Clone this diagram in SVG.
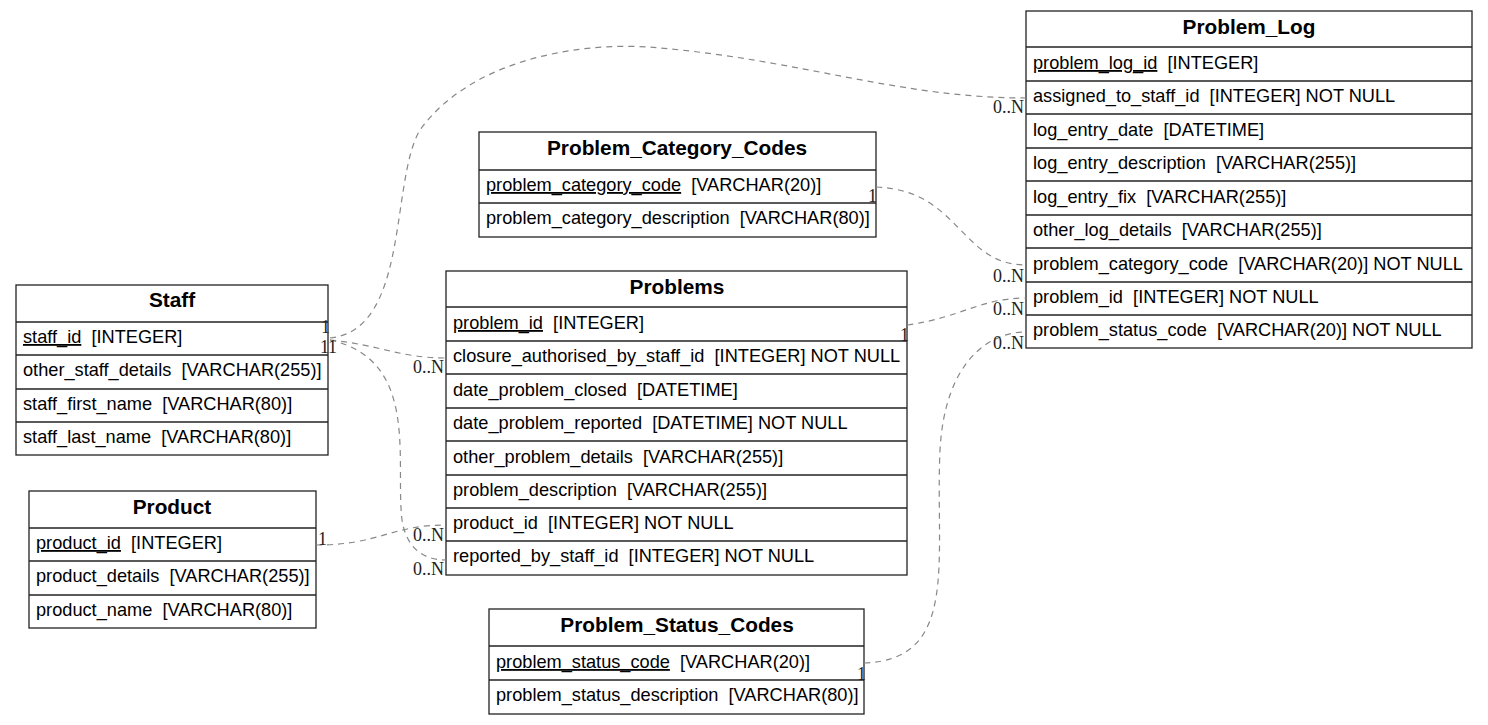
<svg xmlns="http://www.w3.org/2000/svg" width="1488" height="725" viewBox="0 0 1488 725">
<style>
.box{fill:#fff;stroke:#222;stroke-width:1.3}
.sep{stroke:#222;stroke-width:1.3}
.h{font-family:"Liberation Sans",Arial,sans-serif;font-size:20.8px;font-weight:bold;text-anchor:middle;fill:#000}
.r{font-family:"Liberation Sans",Arial,sans-serif;font-size:18.2px;fill:#000;white-space:pre}
.pk{text-decoration:underline}
.e{fill:none;stroke:#888;stroke-width:1.2;stroke-dasharray:6,5}
.l{font-family:"Liberation Serif","Times New Roman",serif;font-size:18px;fill:#222}
</style>
<rect width="1488" height="725" fill="#fff"/>
<g id="Staff">
<rect class="box" x="16" y="285" width="312" height="170"/>
<line class="sep" x1="16" y1="322" x2="328" y2="322"/>
<line class="sep" x1="16" y1="355" x2="328" y2="355"/>
<line class="sep" x1="16" y1="389" x2="328" y2="389"/>
<line class="sep" x1="16" y1="422" x2="328" y2="422"/>
<text class="h" x="172" y="307">Staff</text>
<text class="r" x="23" y="343"><tspan class="pk">staff_id</tspan>  [INTEGER]</text>
<text class="r" x="23" y="376">other_staff_details  [VARCHAR(255)]</text>
<text class="r" x="23" y="410">staff_first_name  [VARCHAR(80)]</text>
<text class="r" x="23" y="443">staff_last_name  [VARCHAR(80)]</text>
</g>
<g id="Product">
<rect class="box" x="29" y="491" width="287" height="137"/>
<line class="sep" x1="29" y1="528" x2="316" y2="528"/>
<line class="sep" x1="29" y1="561" x2="316" y2="561"/>
<line class="sep" x1="29" y1="595" x2="316" y2="595"/>
<text class="h" x="172" y="514">Product</text>
<text class="r" x="36" y="549"><tspan class="pk">product_id</tspan>  [INTEGER]</text>
<text class="r" x="36" y="582">product_details  [VARCHAR(255)]</text>
<text class="r" x="36" y="616">product_name  [VARCHAR(80)]</text>
</g>
<g id="Problem_Category_Codes">
<rect class="box" x="479" y="132" width="397" height="105"/>
<line class="sep" x1="479" y1="170" x2="876" y2="170"/>
<line class="sep" x1="479" y1="203" x2="876" y2="203"/>
<text class="h" x="677" y="155">Problem_Category_Codes</text>
<text class="r" x="486" y="191"><tspan class="pk">problem_category_code</tspan>  [VARCHAR(20)]</text>
<text class="r" x="486" y="224">problem_category_description  [VARCHAR(80)]</text>
</g>
<g id="Problems">
<rect class="box" x="446" y="271" width="461" height="304"/>
<line class="sep" x1="446" y1="307" x2="907" y2="307"/>
<line class="sep" x1="446" y1="341" x2="907" y2="341"/>
<line class="sep" x1="446" y1="374" x2="907" y2="374"/>
<line class="sep" x1="446" y1="408" x2="907" y2="408"/>
<line class="sep" x1="446" y1="441" x2="907" y2="441"/>
<line class="sep" x1="446" y1="475" x2="907" y2="475"/>
<line class="sep" x1="446" y1="508" x2="907" y2="508"/>
<line class="sep" x1="446" y1="541" x2="907" y2="541"/>
<text class="h" x="677" y="294">Problems</text>
<text class="r" x="453" y="329"><tspan class="pk">problem_id</tspan>  [INTEGER]</text>
<text class="r" x="453" y="362">closure_authorised_by_staff_id  [INTEGER] NOT NULL</text>
<text class="r" x="453" y="396">date_problem_closed  [DATETIME]</text>
<text class="r" x="453" y="429">date_problem_reported  [DATETIME] NOT NULL</text>
<text class="r" x="453" y="463">other_problem_details  [VARCHAR(255)]</text>
<text class="r" x="453" y="496">problem_description  [VARCHAR(255)]</text>
<text class="r" x="453" y="529">product_id  [INTEGER] NOT NULL</text>
<text class="r" x="453" y="562">reported_by_staff_id  [INTEGER] NOT NULL</text>
</g>
<g id="Problem_Status_Codes">
<rect class="box" x="489" y="609" width="375" height="105"/>
<line class="sep" x1="489" y1="646" x2="864" y2="646"/>
<line class="sep" x1="489" y1="680" x2="864" y2="680"/>
<text class="h" x="677" y="632">Problem_Status_Codes</text>
<text class="r" x="496" y="668"><tspan class="pk">problem_status_code</tspan>  [VARCHAR(20)]</text>
<text class="r" x="496" y="701">problem_status_description  [VARCHAR(80)]</text>
</g>
<g id="Problem_Log">
<rect class="box" x="1026" y="11" width="446" height="337"/>
<line class="sep" x1="1026" y1="47" x2="1472" y2="47"/>
<line class="sep" x1="1026" y1="81" x2="1472" y2="81"/>
<line class="sep" x1="1026" y1="114" x2="1472" y2="114"/>
<line class="sep" x1="1026" y1="148" x2="1472" y2="148"/>
<line class="sep" x1="1026" y1="181" x2="1472" y2="181"/>
<line class="sep" x1="1026" y1="215" x2="1472" y2="215"/>
<line class="sep" x1="1026" y1="248" x2="1472" y2="248"/>
<line class="sep" x1="1026" y1="282" x2="1472" y2="282"/>
<line class="sep" x1="1026" y1="315" x2="1472" y2="315"/>
<text class="h" x="1249" y="34">Problem_Log</text>
<text class="r" x="1033" y="69"><tspan class="pk">problem_log_id</tspan>  [INTEGER]</text>
<text class="r" x="1033" y="102">assigned_to_staff_id  [INTEGER] NOT NULL</text>
<text class="r" x="1033" y="136">log_entry_date  [DATETIME]</text>
<text class="r" x="1033" y="169">log_entry_description  [VARCHAR(255)]</text>
<text class="r" x="1033" y="203">log_entry_fix  [VARCHAR(255)]</text>
<text class="r" x="1033" y="236">other_log_details  [VARCHAR(255)]</text>
<text class="r" x="1033" y="270">problem_category_code  [VARCHAR(20)] NOT NULL</text>
<text class="r" x="1033" y="303">problem_id  [INTEGER] NOT NULL</text>
<text class="r" x="1033" y="336">problem_status_code  [VARCHAR(20)] NOT NULL</text>
</g>
<g id="connectors">
<path class="e" d="M330,338 C410,330 390,180 420,130 C470,60 580,40 660,48 C800,60 900,98 1026,98"/>
<path class="e" d="M330,340 C380,345 400,358 446,358"/>
<path class="e" d="M330,340 C420,360 395,460 402,520 C406,545 420,560 446,560"/>
<path class="e" d="M316,545 C380,545 390,525 446,525"/>
<path class="e" d="M876,187 C960,190 960,265 1026,265"/>
<path class="e" d="M907,325 C960,318 980,298 1026,298"/>
<path class="e" d="M864,663 C960,660 935,560 940,450 C945,360 990,332 1026,332"/>
<text class="l" x="321" y="333">1</text>
<text class="l" x="320" y="353">1</text>
<text class="l" x="328" y="353">1</text>
<text class="l" x="413" y="373">0..N</text>
<text class="l" x="413" y="575">0..N</text>
<text class="l" x="318" y="545">1</text>
<text class="l" x="413" y="541">0..N</text>
<text class="l" x="868" y="202">1</text>
<text class="l" x="993" y="282">0..N</text>
<text class="l" x="900" y="341">1</text>
<text class="l" x="993" y="315">0..N</text>
<text class="l" x="993" y="349">0..N</text>
<text class="l" x="993" y="113">0..N</text>
<text class="l" x="857" y="680">1</text>
</g>
</svg>
